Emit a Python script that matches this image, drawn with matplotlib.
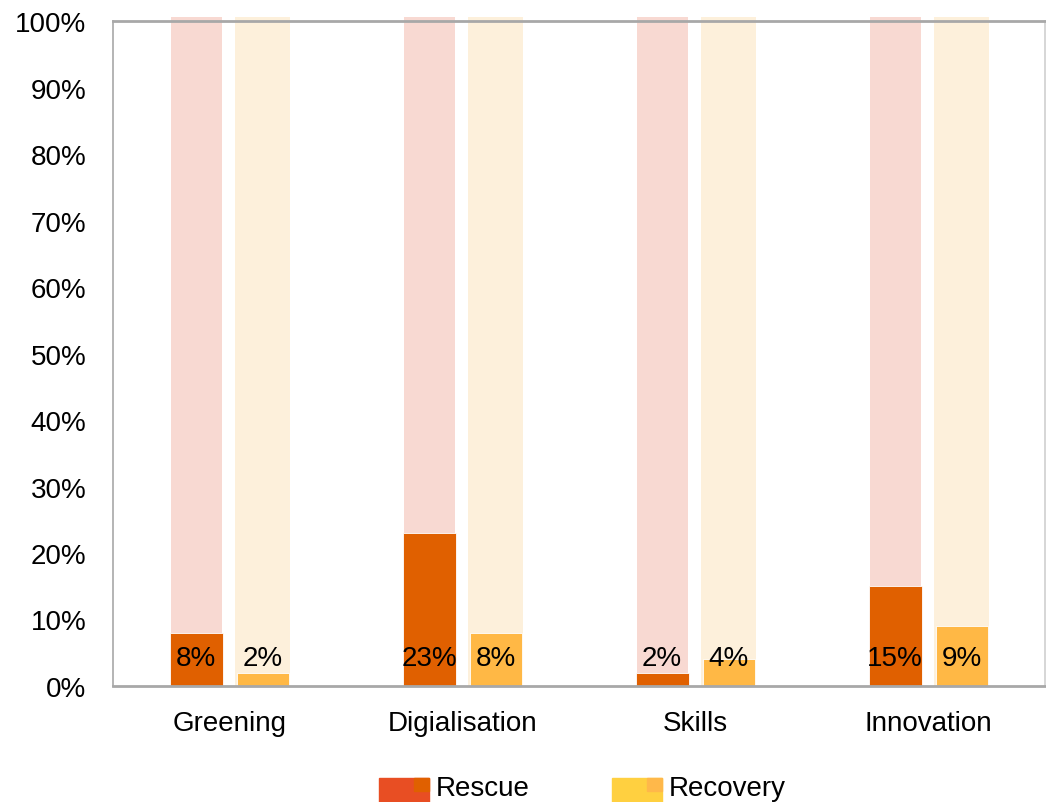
import matplotlib.pyplot as plt
from matplotlib.patches import Rectangle
from matplotlib import font_manager

categories = ['Greening', 'Digialisation', 'Skills', 'Innovation']
rescue = [8, 23, 2, 15]
recovery = [2, 8, 4, 9]
total = [100.6, 100.6, 100.6, 100.6]

names = [f.name for f in font_manager.fontManager.ttflist]
fam = 'Liberation Sans Narrow' if 'Liberation Sans Narrow' in names else 'Liberation Sans'
plt.rcParams['font.family'] = [fam, 'DejaVu Sans']
fs = 20

c_rescue = '#E06000'
c_rescue_bg = '#F8D9D2'
c_recov = '#FFB845'
c_recov_bg = '#FDF0DB'


class TwoBox:
    # legend key: big block with a small darker square in its top right corner
    def __init__(self, big, small):
        self.big = big
        self.small = small

    def legend_artist(self, legend, orig_handle, fontsize, handlebox):
        x0, y0 = handlebox.xdescent, handlebox.ydescent
        w, h = handlebox.width, handlebox.height
        tr = handlebox.get_transform()
        a = Rectangle((x0, y0 - 10), w, h + 10, color=self.big, transform=tr)
        b = Rectangle((x0 + w * 0.69, y0 + h * 0.3), w * 0.31, h * 0.7,
                      color=self.small, transform=tr)
        handlebox.add_artist(a)
        handlebox.add_artist(b)
        return a


fig = plt.figure(figsize=(10.46, 8.03), dpi=100)
ax = fig.add_axes([0.108, 0.1445, 0.891, 0.828])

x = range(len(categories))
off = 0.143
ax.bar([i - off for i in x], total, width=0.22, color=c_rescue_bg, clip_on=False, zorder=1)
ax.bar([i + off for i in x], total, width=0.235, color=c_recov_bg, clip_on=False, zorder=1)
ax.bar([i - off for i in x], rescue, width=0.227, color=c_rescue,
       edgecolor='white', linewidth=0.6, zorder=2)
ax.bar([i + off for i in x], recovery, width=0.225, color=c_recov,
       edgecolor='white', linewidth=0.6, zorder=2)

for i in x:
    ax.text(i - off, 4.2, f'{rescue[i]}%', ha='center', va='center', fontsize=fs, zorder=3)
    ax.text(i + off, 4.2, f'{recovery[i]}%', ha='center', va='center', fontsize=fs, zorder=3)

ax.set_xlim(-0.5, 3.5)
ax.set_ylim(0, 100)
ax.set_yticks(range(0, 101, 10))
ax.set_yticklabels([f'{v}%' for v in range(0, 101, 10)], fontsize=fs)
ax.set_xticks(list(x))
ax.set_xticklabels(categories, fontsize=fs)
ax.tick_params(length=0)
ax.tick_params(axis='y', pad=19)
ax.tick_params(axis='x', pad=17)

for s in ax.spines.values():
    s.set_color('#A8A8A8')
    s.set_linewidth(1.2)
ax.spines['bottom'].set_linewidth(2.0)
ax.spines['top'].set_linewidth(2.0)
ax.spines['right'].set_color('#D0D0D0')

h1 = Rectangle((0, 0), 1, 1)
h2 = Rectangle((0, 0), 1, 1)
fig.legend([h1, h2], ['Rescue', 'Recovery'], loc='center', bbox_to_anchor=(0.557, 0.0174),
           ncol=2, frameon=False, fontsize=fs, handlelength=1.8, handleheight=0.6,
           columnspacing=2.95, handletextpad=0.25,
           handler_map={h1: TwoBox('#E84E23', '#E06000'), h2: TwoBox('#FFD040', '#FFB84A')})

fig.savefig('out.png', dpi=100)
